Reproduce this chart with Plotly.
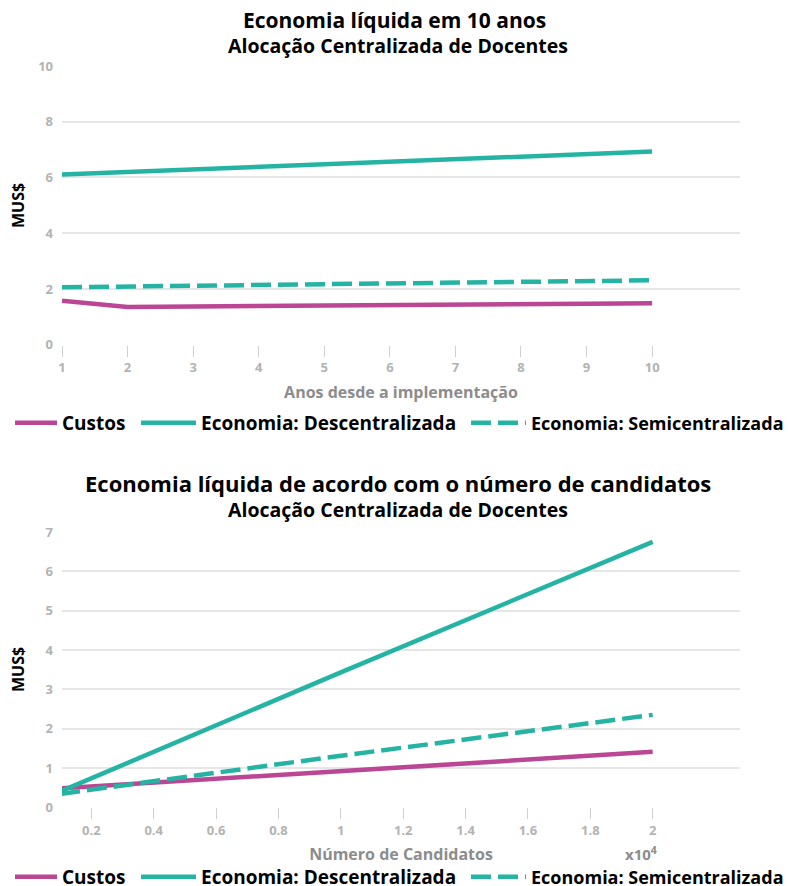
import plotly.graph_objects as go

# ---- data ----
anos = [1, 2, 3, 4, 5, 6, 7, 8, 9, 10]
custos_anos = [1.58, 1.35, 1.37, 1.38, 1.40, 1.41, 1.43, 1.45, 1.47, 1.49]
descent_anos = [6.11, 6.20, 6.29, 6.38, 6.47, 6.57, 6.66, 6.75, 6.84, 6.93]
semicent_anos = [2.06, 2.09, 2.12, 2.14, 2.17, 2.20, 2.23, 2.25, 2.28, 2.31]

candidatos = [0.1, 1.0, 2.0]  # x10^4
custos_cand = [0.48, 0.93, 1.41]
descent_cand = [0.40, 3.43, 6.75]
semicent_cand = [0.34, 1.31, 2.35]

x_ticks_top = [1, 2, 3, 4, 5, 6, 7, 8, 9, 10]
x_ticks_bot = [0.2, 0.4, 0.6, 0.8, 1.0, 1.2, 1.4, 1.6, 1.8, 2.0]
x_ticktext_bot = ["0.2", "0.4", "0.6", "0.8", "1", "1.2", "1.4", "1.6", "1.8", "2"]

MAGENTA = "#bb4693"
TEAL = "#25b4a4"
FONT = "Open Sans"
W, H = 788, 886
ML, MR = 62, 48

series = [
    ("Custos", MAGENTA, "solid"),
    ("Economia: Descentralizada", TEAL, "solid"),
    ("Economia: Semicentralizada", TEAL, "20px,7px"),
]
# legend entry placement (left pixel, sample width, font size)
legend_left = [10, 136, 466]
legend_itemw = [42, 55, 55]
legend_fs = [19, 19, 18]

fig = go.Figure()

for i, ((name, col, dash), ys) in enumerate(zip(series, [custos_anos, descent_anos, semicent_anos])):
    fig.add_trace(go.Scatter(x=anos, y=ys, mode="lines", name=name,
                             line=dict(color=col, width=4.5, dash=dash),
                             xaxis="x", yaxis="y",
                             legend="legend" if i == 0 else f"legend{i + 1}"))
for i, ((name, col, dash), ys) in enumerate(zip(series, [custos_cand, descent_cand, semicent_cand])):
    fig.add_trace(go.Scatter(x=candidatos, y=ys, mode="lines", name=name,
                             line=dict(color=col, width=4.5, dash=dash),
                             xaxis="x2", yaxis="y2", legend=f"legend{i + 4}"))

def py(p):
    return 1 - p / H

def px(p):
    return (p - ML) / (W - ML - MR)

tickfont = dict(family=FONT, size=13, color="#b3b3b3", weight="bold")
axtitle = dict(family=FONT, size=16, color="#8c8c8c", weight="bold")

common_x = dict(showgrid=False, zeroline=False, showline=False, ticks="outside",
                ticklen=11, tickwidth=1, tickcolor="#d0d0d0", tickfont=tickfont,
                fixedrange=True, automargin=False)
common_y = dict(showgrid=True, gridcolor="#e6e6e6", gridwidth=1.5, zeroline=False,
                showline=False, ticks="", tickfont=tickfont, ticklabelstandoff=8,
                automargin=False)

def leg(xpix, ypix, iw, fs):
    return dict(orientation="h", xref="container", yref="paper",
                x=xpix / W, xanchor="left", y=py(ypix), yanchor="middle",
                font=dict(family=FONT, size=fs, color="#000", weight="bold"),
                itemwidth=iw, tracegroupgap=0, bgcolor="rgba(0,0,0,0)")

legends = {}
for i, (xl, iw, fs) in enumerate(zip(legend_left, legend_itemw, legend_fs)):
    legends["legend" if i == 0 else f"legend{i + 1}"] = leg(xl, 423, iw, fs)
    legends[f"legend{i + 4}"] = leg(xl, 877, iw, fs)

fig.update_layout(
    width=W, height=H,
    margin=dict(l=ML, r=MR, t=0, b=0, autoexpand=False),
    paper_bgcolor="white", plot_bgcolor="white",
    font=dict(family=FONT),
    xaxis=dict(common_x, domain=[0, 1], range=[1, 11.34], tickvals=x_ticks_top,
               anchor="y",
               title=dict(text="Anos desde a implementação", font=axtitle, standoff=11)),
    yaxis=dict(common_y, domain=[py(344.7), py(66)], range=[0, 10], dtick=2,
               anchor="x"),
    xaxis2=dict(common_x, domain=[0, 1], range=[0.106, 2.28], tickvals=x_ticks_bot,
                ticktext=x_ticktext_bot, anchor="y2",
                title=dict(text="Número de Candidatos", font=axtitle, standoff=10)),
    yaxis2=dict(common_y, domain=[py(807.3), py(532)], range=[0, 7], dtick=1,
                anchor="x2"),
    showlegend=True,
    **legends,
)

ann = [
    dict(text="Economia líquida em 10 anos", x=px(394), y=py(20),
         font=dict(family=FONT, size=21, color="#000", weight="bold")),
    dict(text="Alocação Centralizada de Docentes", x=px(398), y=py(45),
         font=dict(family=FONT, size=19.5, color="#000", weight="bold")),
    dict(text="Economia líquida de acordo com o número de candidatos", x=px(398), y=py(483),
         font=dict(family=FONT, size=22, color="#000", weight="bold")),
    dict(text="Alocação Centralizada de Docentes", x=px(398), y=py(509),
         font=dict(family=FONT, size=19.5, color="#000", weight="bold")),
    dict(text="x10<sup>4</sup>", x=px(641), y=py(853),
         font=dict(family=FONT, size=15, color="#8c8c8c", weight="bold")),
    dict(text="MUS$", x=px(18), y=py(206), textangle=-90,
         font=dict(family=FONT, size=16, color="#000", weight="bold")),
    dict(text="MUS$", x=px(18), y=py(670), textangle=-90,
         font=dict(family=FONT, size=16, color="#000", weight="bold")),
]
for a in ann:
    fig.add_annotation(xref="paper", yref="paper", showarrow=False,
                       xanchor="center", yanchor="middle", **a)

fig.write_html("out.html")
